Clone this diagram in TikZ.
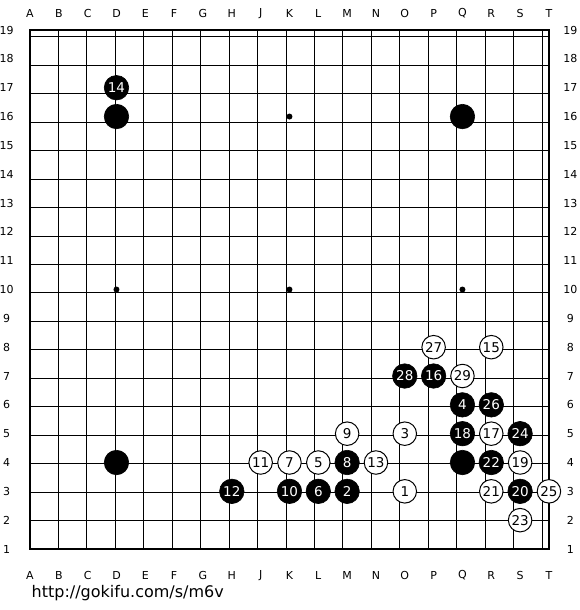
\documentclass[tikz,border=0pt]{standalone}
\usepackage{fontspec}
\setmainfont{DejaVu Sans}
\begin{document}
\begin{tikzpicture}[x=28.83pt,y=28.83pt,
  bst/.style={circle,fill=black,draw=black,line width=0.6pt,minimum size=24.5pt,inner sep=0pt,text=white,font=\fontsize{13.5}{14}\selectfont},
  wst/.style={circle,fill=white,draw=black,line width=1pt,minimum size=23.5pt,inner sep=0pt,text=black,font=\fontsize{13.5}{14}\selectfont},
  lbl/.style={inner sep=0pt,font=\fontsize{11}{12}\selectfont},
  star/.style={circle,fill=black,minimum size=6pt,inner sep=0pt}]
\useasboundingbox (-30pt,-61pt) rectangle (550pt,549pt);
\fill[white] (-30pt,-61pt) rectangle (550pt,549pt);
% grid
\draw[line width=1pt] (0,0) grid (18,18);
\draw[line width=2pt] (0,0) rectangle (18,18);
% star points
\foreach \i/\j [count=\k] in {3/3,9/3,15/3,3/9,9/9,15/9,3/15,9/15,15/15}
  \node[star] (sp\k) at (\i,\j) {};
% coordinates
\foreach \l [count=\i from 0] in {A,B,C,D,E,F,G,H,J,K,L,M,N,O,P,Q,R,S,T}{
  \node[lbl] (ct\i) at (\i,18.58) {\l};
  \node[lbl] (cb\i) at (\i,-0.92) {\l};
}
\foreach \r in {1,...,19}{
  \node[lbl] (rl\r) at (-0.81,\r-1) {\r};
  \node[lbl] (rr\r) at (18.74,\r-1) {\r};
}
% black stones without numbers
\node[bst] (bD16) at (3,15) {};
\node[bst] (bQ16) at (15,15) {};
\node[bst] (bD4) at (3,3) {};
\node[bst] (bQ4) at (15,3) {};
% black numbered
\node[bst] (m2) at (11,2) {2};
\node[bst] (m4) at (15,5) {4};
\node[bst] (m6) at (10,2) {6};
\node[bst] (m8) at (11,3) {8};
\node[bst] (m10) at (9,2) {10};
\node[bst] (m12) at (7,2) {12};
\node[bst] (m14) at (3,16) {14};
\node[bst] (m16) at (14,6) {16};
\node[bst] (m18) at (15,4) {18};
\node[bst] (m20) at (17,2) {20};
\node[bst] (m22) at (16,3) {22};
\node[bst] (m24) at (17,4) {24};
\node[bst] (m26) at (16,5) {26};
\node[bst] (m28) at (13,6) {28};
% white numbered
\node[wst] (m1) at (13,2) {1};
\node[wst] (m3) at (13,4) {3};
\node[wst] (m5) at (10,3) {5};
\node[wst] (m7) at (9,3) {7};
\node[wst] (m9) at (11,4) {9};
\node[wst] (m11) at (8,3) {11};
\node[wst] (m13) at (12,3) {13};
\node[wst] (m15) at (16,7) {15};
\node[wst] (m17) at (16,4) {17};
\node[wst] (m19) at (17,3) {19};
\node[wst] (m21) at (16,2) {21};
\node[wst] (m23) at (17,1) {23};
\node[wst] (m25) at (18,2) {25};
\node[wst] (m27) at (14,7) {27};
\node[wst] (m29) at (15,6) {29};
% url
\node[anchor=west,inner sep=0pt,font=\fontsize{16}{17}\selectfont] (url) at (1.5pt,-44pt) {http://gokifu.com/s/m6v};
\end{tikzpicture}
\end{document}
